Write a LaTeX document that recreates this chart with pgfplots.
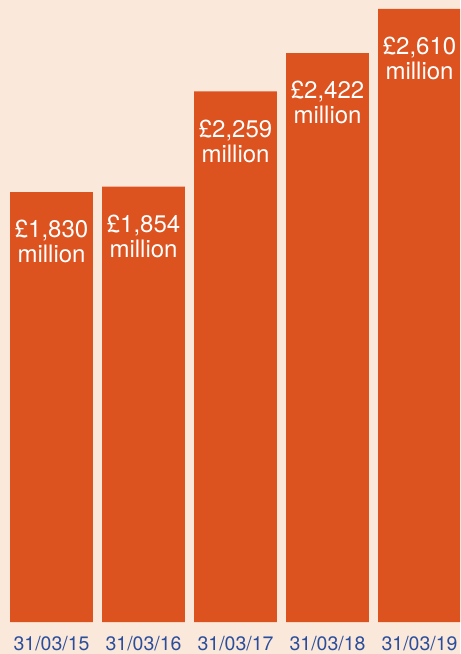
\documentclass[border=0pt]{standalone}
\usepackage{fontspec}
\setmainfont{TeX Gyre Heros}
\usepackage{pgfplots}
\pgfplotsset{compat=1.18}
\definecolor{bgc}{HTML}{FAE8DB}
\definecolor{barc}{HTML}{DC5320}
\definecolor{tickc}{HTML}{2B4E9B}
\begin{document}
\begin{tikzpicture}
\begin{axis}[
  scale only axis, width=460pt, height=654pt,
  xmin=-0.560, xmax=4.440, ymin=-136.2, ymax=2648.3,
  axis background/.style={fill=bgc},
  axis line style={draw=none}, tick style={draw=none},
  ytick=\empty,
  xtick={0,1,2,3,4},
  xticklabels={31/03/15,31/03/16,31/03/17,31/03/18,31/03/19},
  xticklabel style={font=\fontsize{19.5}{19.5}\selectfont, text=tickc, anchor=base, yshift=7.5pt},
  ybar, bar width=0.9,
  clip=true,
  point meta=y,
  nodes near coords={£\pgfmathprintnumber[assume math mode=true, 1000 sep={,}]{\pgfplotspointmeta}\\million},
  every node near coord/.append style={anchor=north, yshift=-28pt, align=center, inner sep=0pt, text=white, font=\fontsize{24}{25}\selectfont},
]
\addplot[fill=barc, draw=none] coordinates {(0,1830) (1,1854) (2,2259) (3,2422) (4,2610)};
\end{axis}
\pgfresetboundingbox
\path[use as bounding box] (current axis.south west) rectangle (current axis.north east);
\end{tikzpicture}
\end{document}
